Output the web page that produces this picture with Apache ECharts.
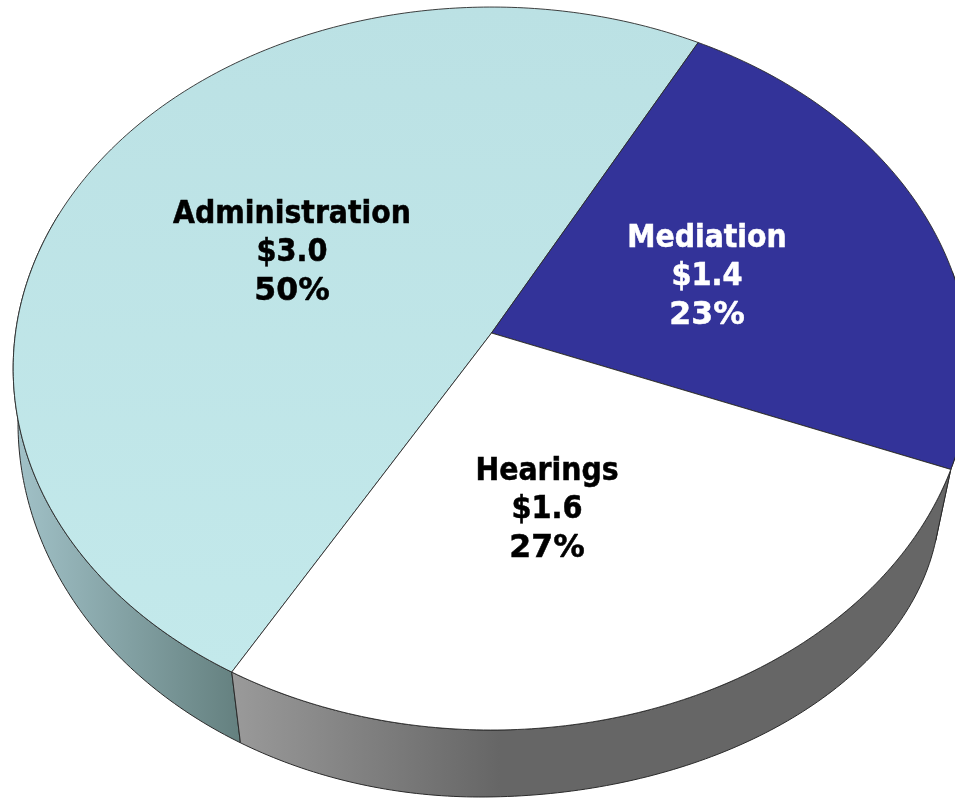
<!DOCTYPE html>
<html><head><meta charset="utf-8">
<style>html,body{margin:0;padding:0;background:#fff}#c{width:955px;height:798px}</style>
<script src="https://cdn.jsdelivr.net/npm/echarts@6/dist/echarts.min.js"></script>
</head><body><div id="c"></div>
<script>
// Data (slice sizes estimated from the drawn angles)
const categories = ['Administration', 'Mediation', 'Hearings'];
const sliceValues = [2.97, 1.39, 1.64];
const dollarLabels = ['$3.0', '$1.4', '$1.6'];
const percentLabels = ['50%', '23%', '27%'];
const startAngle = 209.95;
const labelAnchors = [[292, 253], [707, 277], [547, 510]];
const labelColors = ['#000000', '#ffffff', '#000000'];

// Perspective disc model for the top face
const topRim = {ax: 491.5, ay: 333, rx: 476, ry: 358};
const k = -0.0983;
function projectTop(deg) {
  const t = deg * Math.PI / 180, u = Math.sin(t), v = -Math.cos(t), w = 1 + k * v;
  return [topRim.ax + topRim.rx * u / w, topRim.ay + topRim.ry * v / w];
}
// Lower edge of the wall: two quarter ellipses meeting at the lowest point
function projectBottom(deg) {
  const d = deg % 360;
  if (d <= 180) {
    const p = (180 - (180 - d) * 1.2) * Math.PI / 180;
    return [480 + 460 * Math.sin(p), 500 - 297 * Math.cos(p)];
  }
  const p = (180 + (d - 180) * 1.043) * Math.PI / 180;
  return [480 + 462 * Math.sin(p), 423 - 374 * Math.cos(p)];
}
function arc(fn, a, b) {
  const n = Math.max(2, Math.ceil(Math.abs(b - a) / 0.75)), pts = [];
  for (let i = 0; i <= n; i++) pts.push(fn(a + (b - a) * i / n));
  return pts;
}
const G = (x0, x1, stops) => new echarts.graphic.LinearGradient(x0, 0, x1, 0, stops, true);
const faceFills = [
  new echarts.graphic.LinearGradient(0, 0, 0, 1, [{offset: 0, color: '#bbe1e4'}, {offset: 1, color: '#c3e9eb'}]),
  '#333399',
  '#ffffff'
];
const wallFills = [
  G(20, 240, [{offset: 0, color: '#a0c0c6'}, {offset: 1, color: '#64807f'}]),
  '#14144f',
  G(232, 500, [{offset: 0, color: '#9a9a9a'}, {offset: 1, color: '#666666'}])
];
const total = sliceValues.reduce((s, x) => s + x, 0);
const rows = [];
let cur = startAngle;
sliceValues.forEach((val, i) => {
  const sweep = val / total * 360;
  rows.push([i, cur, cur + sweep]);
  cur += sweep;
});
const LINE = '#2a2a2a';
const NARROW = '"DejaVu Sans Condensed","DejaVu Sans",sans-serif';
const WIDE = '"DejaVu Sans",sans-serif';

const option = {
  animation: false,
  series: [
    { // side walls
      type: 'custom', coordinateSystem: 'none', silent: true, z: 1, data: rows,
      renderItem(params, api) {
        const i = api.value(0);
        const a = api.value(1), b = api.value(2);
        // keep only the part of the rim on the viewer's side
        const segs = [];
        [[80, 290], [440, 650]].forEach(r => {
          const s = Math.max(a, r[0]), e = Math.min(b, r[1]);
          if (e > s) segs.push([s, e]);
        });
        return {type: 'group', children: segs.map(s => ({
          type: 'polygon',
          shape: {points: arc(projectTop, s[0], s[1]).concat(arc(projectBottom, s[1], s[0]))},
          style: {fill: wallFills[i], stroke: LINE, lineWidth: 1}
        }))};
      }
    },
    { // top faces and labels
      type: 'custom', coordinateSystem: 'none', silent: true, z: 2, data: rows,
      renderItem(params, api) {
        const i = api.value(0);
        const pts = [[topRim.ax, topRim.ay]].concat(arc(projectTop, api.value(1), api.value(2)));
        const [lx, ly] = labelAnchors[i];
        const c = labelColors[i];
        const line = (family, size) => ({
          fontFamily: family, fontSize: size, fontWeight: 'bold', lineHeight: 38.5,
          fill: c, stroke: c, lineWidth: 0.5, align: 'center'
        });
        return {type: 'group', children: [
          {type: 'polygon', shape: {points: pts},
           style: {fill: faceFills[i], stroke: LINE, lineWidth: 0.9}},
          {type: 'text', z2: 10, x: lx, y: ly, style: {
            text: '{a|' + categories[i] + '}\n{b|' + dollarLabels[i] + '}\n{c|' + percentLabels[i] + '}',
            align: 'center', verticalAlign: 'middle',
            rich: {a: line(NARROW, 31.5), b: line(NARROW, 32), c: line(WIDE, 31.5)}
          }}
        ]};
      }
    }
  ]
};
const chart = echarts.init(document.getElementById('c'), null, {renderer: 'canvas'});
chart.setOption(option);
</script></body></html>
